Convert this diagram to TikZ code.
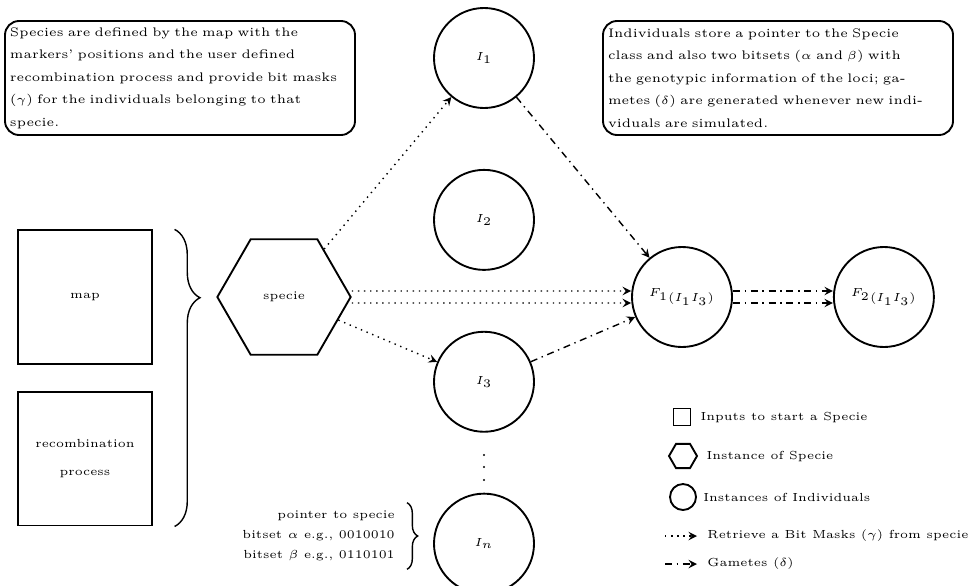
\documentclass[tikz,border=0pt]{standalone}
\usepackage{amsmath}
\usepackage{amssymb}
\usepackage{tikz}
\usetikzlibrary{shapes.geometric, arrows, positioning, decorations.pathreplacing}

\begin{document}
\begin{tikzpicture}[
    x=0.015cm, y=-0.015cm,
    note/.style={rectangle, draw, thick, rounded corners=6pt,
                 text width=5.1cm, minimum height=1.71cm, inner sep=0.075cm,
                 align=left, font=\fontsize{5.3}{9.6}\selectfont},
    input/.style={rectangle, draw, thick, minimum size=2cm,
                  align=center, font=\linespread{2}\tiny},
    specie/.style={regular polygon, regular polygon sides=6, draw, thick,
                   minimum size=2cm, font=\tiny},
    indiv/.style={circle, draw, thick, minimum size=1.5cm, font=\tiny},
    maskarrow/.style={->, >=stealth, semithick, dotted},
    gamarrow/.style={->, >=stealth, semithick, dash dot},
    curly/.style={decorate, decoration={brace, amplitude=#1}, semithick},
    legtext/.style={font=\tiny, inner sep=0pt}
]
\useasboundingbox (0,0) rectangle (968,585);

% Notes
\node[note] (specnote) at (180,78) {Species are defined by the map with the\\markers' positions and the user defined\\recombination process and provide bit masks\\($\gamma$) for the individuals belonging to that\\specie.};
\node[note] (indnote) at (778,78) {Individuals store a pointer to the Specie\\class and also two bitsets ($\alpha$ and $\beta$) with\\the genotypic information of the loci; ga-\\metes ($\delta$) are generated whenever new indi-\\viduals are simulated.};

% Inputs
\node[input] (map) at (85,297) {map};
\node[input, below=0.4cm of map] (recomb) {recombination\\process};
\draw[curly=0.38cm, decoration={aspect=0.23}] ([xshift=0.33cm]map.north east) -- ([xshift=0.33cm]recomb.south east);

% Specie
\node[specie] (specie) at (284,297) {specie};

% Individuals
\node[indiv] (i1) at (484,58) {$I_1$};
\node[indiv, below=0.9cm of i1] (i2) {$I_2$};
\node[indiv, below=0.9cm of i2] (i3) {$I_3$};
\fill (484,455) circle (0.018cm) (484,467) circle (0.018cm) (484,480) circle (0.018cm);
\node[indiv, below=0.9cm of i3] (in) {$I_n$};
\node[anchor=east, align=right, font=\linespread{1.42}\tiny] (ptrtext) at (403,536) {pointer to specie\\bitset $\alpha$ e.g., 0010010\\bitset $\beta$ e.g., 0110101};
\draw[curly=0.16cm] ([xshift=0.06cm]ptrtext.north east) -- ([xshift=0.06cm]ptrtext.south east);

% Offspring
\node[indiv] (f1) at (682,297) {${F_1}_{(I_1I_3)}$};
\node[indiv, right=1.5cm of f1] (f2) {${F_2}_{(I_1I_3)}$};

% Connections
\draw[maskarrow] (specie) -- (i1);
\draw[maskarrow] ([yshift=0.09cm]specie.east) -- ([yshift=0.09cm]f1.west);
\draw[maskarrow] ([yshift=-0.09cm]specie.east) -- ([yshift=-0.09cm]f1.west);
\draw[maskarrow] (specie) -- (i3);
\draw[gamarrow] (i1) -- (f1);
\draw[gamarrow] (i3) -- (f1);
\draw[gamarrow] ([yshift=0.09cm]f1.east) -- ([yshift=0.09cm]f2.west);
\draw[gamarrow] ([yshift=-0.09cm]f1.east) -- ([yshift=-0.09cm]f2.west);

% Legend
\node[rectangle, draw, thick, minimum size=0.255cm, inner sep=0pt] (leginput) at (682,417) {};
\node[legtext, right=0.13cm of leginput] (leginputtext) {Inputs to start a Specie};
\node[regular polygon, regular polygon sides=6, draw, thick, minimum size=0.42cm, inner sep=0pt] (legspecie) at (683,456) {};
\node[legtext, right=0.12cm of legspecie] (legspecietext) {Instance of Specie};
\node[circle, draw, thick, minimum size=0.39cm, inner sep=0pt] (legindiv) at (683,497) {};
\node[legtext, right=0.09cm of legindiv] (legindivtext) {Instances of Individuals};
\coordinate (legmaska) at (665,536);
\coordinate (legmaskb) at (697,536);
\draw[maskarrow] (legmaska) -- (legmaskb);
\node[legtext, right=0.15cm of legmaskb] (legmasktext) {Retrieve a Bit Masks ($\gamma$) from specie};
\coordinate (leggama) at (665,564);
\coordinate (leggamb) at (697,564);
\draw[gamarrow] (leggama) -- (leggamb);
\node[legtext, right=0.15cm of leggamb] (leggamtext) {Gametes ($\delta$)};

\end{tikzpicture}
\end{document}
